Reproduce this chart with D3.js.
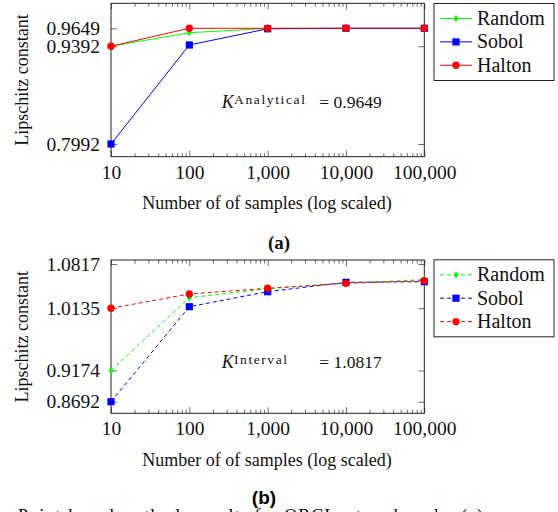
<!DOCTYPE html>
<html>
<head>
<meta charset="utf-8">
<script src="https://cdn.jsdelivr.net/npm/d3@7"></script>
<style>
  body { margin: 0; background: #fff; }
  svg { display: block; }
</style>
</head>
<body>
<div id="chart"></div>
<script>
// sample counts along the x axis
const samples = [10, 100, 1000, 10000, 100000];
const seriesNames = ["Random", "Sobol", "Halton"];
const seriesColors = ["#00ff00", "#0000ff", "#ff0000"];
const seriesMarkers = ["diamond", "square", "circle"];

// panel (a): analytical Lipschitz constant
const analyticalRandom = [0.9392, 0.9586, 0.9647, 0.9649, 0.9649];
const analyticalSobol = [0.7992, 0.9410, 0.9642, 0.9649, 0.9649];
const analyticalHalton = [0.9392, 0.9649, 0.9649, 0.9649, 0.9649];
const analyticalTicks = [0.7992, 0.9392, 0.9649];

// panel (b): interval Lipschitz constant
const intervalRandom = [0.9174, 1.0297, 1.0435, 1.0525, 1.0575];
const intervalSobol = [0.8692, 1.0158, 1.0390, 1.0534, 1.0544];
const intervalHalton = [1.0135, 1.0354, 1.0442, 1.0519, 1.0559];
const intervalTicks = [0.8692, 0.9174, 1.0135, 1.0817];

const xMajor = [10, 100, 1000, 10000, 100000];
const xMinor = [];
for (let d = 10; d < 100000; d *= 10) {
  for (let k = 2; k <= 9; k++) xMinor.push(d * k);
}

const SERIF = "'Liberation Serif', 'DejaVu Serif', serif";
const SANS = "'Liberation Sans', Arial, sans-serif";

const W = 558, H = 512;
const svg = d3.select("#chart").append("svg")
  .attr("width", W).attr("height", H);

const x = d3.scaleLog().domain([10, 100000]).range([111, 424.3]);

function marker(sel, type, color) {
  if (type === "circle") {
    sel.append("circle").attr("r", 3.7).attr("fill", color);
  } else if (type === "square") {
    sel.append("rect").attr("x", -3.6).attr("y", -3.6)
      .attr("width", 7.2).attr("height", 7.2).attr("fill", color);
  } else {
    sel.append("path").attr("d", "M0,-3.6L2.6,0L0,3.6L-2.6,0Z").attr("fill", color);
  }
}

function panel(opts) {
  const y = d3.scaleLinear().domain(opts.yDomain).range([opts.bottom, opts.top]);
  const g = svg.append("g");

  // ticks (inward, mirrored on all sides)
  const tickStyle = s => {
    s.select(".domain").remove();
    s.selectAll(".tick line").attr("stroke", "#6a6a6a");
    s.selectAll("text").style("font-size", "19.5px");
  };
  g.append("g").attr("transform", `translate(0,${opts.bottom})`)
    .call(d3.axisBottom(x).tickValues(xMinor).tickSize(-3.5).tickFormat(""))
    .call(tickStyle);
  g.append("g").attr("transform", `translate(0,${opts.top})`)
    .call(d3.axisTop(x).tickValues(xMinor).tickSize(-3.5).tickFormat(""))
    .call(tickStyle);
  g.append("g").attr("transform", `translate(0,${opts.bottom})`)
    .call(d3.axisBottom(x).tickValues(xMajor).tickSize(-6).tickPadding(8)
      .tickFormat(d3.format(",")))
    .call(tickStyle);
  g.append("g").attr("transform", `translate(0,${opts.top})`)
    .call(d3.axisTop(x).tickValues(xMajor).tickSize(-6).tickFormat(""))
    .call(tickStyle);
  g.append("g").attr("transform", `translate(${x.range()[0]},0)`)
    .call(d3.axisLeft(y).tickValues(opts.yTicks).tickSize(-6).tickPadding(11)
      .tickFormat(d3.format(".4f")))
    .call(tickStyle);
  g.append("g").attr("transform", `translate(${x.range()[1]},0)`)
    .call(d3.axisRight(y).tickValues(opts.yTicks).tickSize(-6).tickFormat(""))
    .call(tickStyle);

  // frame
  g.append("rect")
    .attr("x", x.range()[0]).attr("y", opts.top)
    .attr("width", x.range()[1] - x.range()[0]).attr("height", opts.bottom - opts.top)
    .attr("fill", "none").attr("stroke", "#222").attr("stroke-width", 1);

  // series
  const line = d3.line().x(d => x(d[0])).y(d => y(d[1]));
  opts.series.forEach((vals, i) => {
    const pts = samples.map((s, j) => [s, vals[j]]);
    g.append("path").datum(pts)
      .attr("d", line)
      .attr("fill", "none")
      .attr("stroke", seriesColors[i])
      .attr("stroke-width", 1)
      .attr("stroke-dasharray", opts.dash);
    pts.forEach(p => {
      const m = g.append("g").attr("transform", `translate(${x(p[0])},${y(p[1])})`);
      marker(m, seriesMarkers[i], seriesColors[i]);
    });
  });

  // axis titles
  g.append("text")
    .attr("x", 267).attr("y", opts.bottom + 52.5)
    .attr("text-anchor", "middle")
    .style("font-size", "18px")
    .text("Number of of samples (log scaled)");
  g.append("text")
    .attr("transform", `translate(28,${(opts.top + opts.bottom) / 2}) rotate(-90)`)
    .attr("text-anchor", "middle")
    .style("font-size", "18px")
    .text("Lipschitz constant");

  // annotation
  g.append("text").attr("x", 221.7).attr("y", opts.annY)
    .style("font-size", "18px").style("font-style", "italic").text("K");
  g.append("text").attr("x", 234).attr("y", opts.annY - 4.5)
    .style("font-size", "13.5px")
    .attr("textLength", opts.supWidth).attr("lengthAdjust", "spacing")
    .text(opts.sup);
  g.append("text").attr("x", 381.7).attr("y", opts.annY)
    .attr("text-anchor", "end")
    .style("font-size", "17.5px")
    .text("= " + opts.value);

  // legend
  const lg = g.append("g");
  lg.append("rect")
    .attr("x", 434).attr("y", opts.legendTop)
    .attr("width", 120).attr("height", 77)
    .attr("fill", "#fff").attr("stroke", "#222").attr("stroke-width", 1);
  seriesNames.forEach((name, i) => {
    const cy = opts.legendTop + 15 + i * 23.4;
    lg.append("line")
      .attr("x1", 440).attr("x2", 472).attr("y1", cy).attr("y2", cy)
      .attr("stroke", seriesColors[i]).attr("stroke-width", 1)
      .attr("stroke-dasharray", opts.dash);
    const m = lg.append("g").attr("transform", `translate(456,${cy})`);
    marker(m, seriesMarkers[i], seriesColors[i]);
    lg.append("text").attr("x", 477).attr("y", cy + 6.5)
      .style("font-size", "20px").text(name);
  });

  svg.selectAll("text").style("font-family", SERIF).attr("fill", "#111");

  // caption
  svg.append("text")
    .attr("x", opts.capX).attr("y", opts.capY)
    .attr("text-anchor", "middle")
    .style("font-size", "19px")
    .style("font-family", SANS)
    .style("font-weight", "bold")
    .text(opts.caption);
}

panel({
  top: 3.3, bottom: 156.7, yDomain: [0.7810, 1.0007], yTicks: analyticalTicks,
  series: [analyticalRandom, analyticalSobol, analyticalHalton],
  dash: null, annY: 108, sup: "Analytical", supWidth: 71, value: "0.9649",
  legendTop: 3.5, caption: "(a)", capX: 279, capY: 248.5
});

panel({
  top: 260, bottom: 413.3, yDomain: [0.8513, 1.0879], yTicks: intervalTicks,
  series: [intervalRandom, intervalSobol, intervalHalton],
  dash: "4,3", annY: 368.3, sup: "Interval", supWidth: 53, value: "1.0817",
  legendTop: 259.8, caption: "(b)", capX: 264, capY: 504
});

// figure caption, cut off at the bottom of the page
svg.append("text")
  .attr("x", 18).attr("y", 522)
  .style("font-size", "18px")
  .style("font-family", SERIF)
  .attr("textLength", 465).attr("lengthAdjust", "spacing")
  .text("Point-based methods results for QRCI network under (a)");
</script>
</body>
</html>
